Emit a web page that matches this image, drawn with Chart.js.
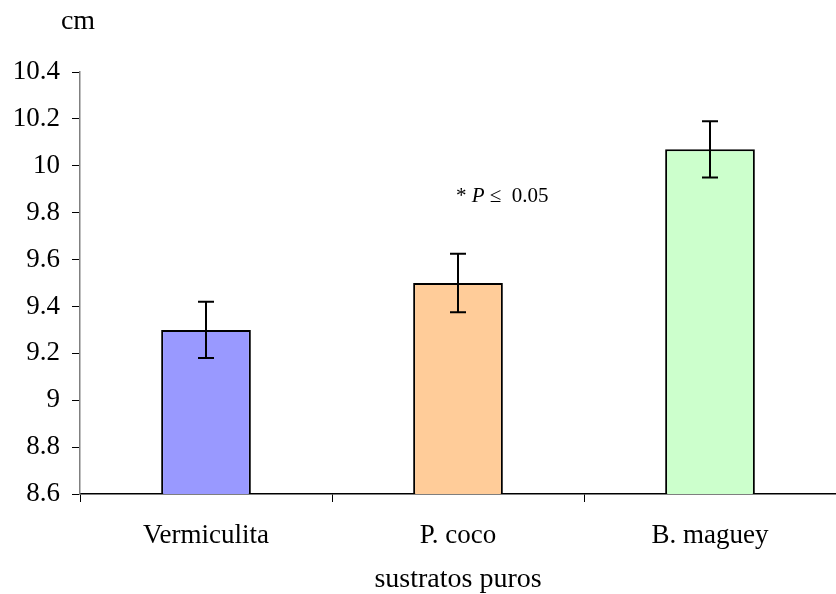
<!DOCTYPE html>
<html><head><meta charset="utf-8">
<script src="https://cdn.jsdelivr.net/npm/chart.js@4/dist/chart.umd.min.js"></script>
<style>html,body{margin:0;padding:0;background:#fff}#wrap{width:836px;height:594px}</style>
</head><body><div id="wrap"><canvas id="c" width="836" height="594"></canvas></div>
<script>
const categories = ["Vermiculita", "P. coco", "B. maguey"];
const means = [9.30, 9.50, 10.07];
const errors = [0.12, 0.125, 0.12];
const barColors = ["#9999FF", "#FFCC99", "#CCFFCC"];
const yTicks = [8.6, 8.8, 9.0, 9.2, 9.4, 9.6, 9.8, 10.0, 10.2, 10.4];
const yUnit = "cm";
const xTitle = "sustratos puros";
const noteValue = 9.87;

const SERIF = "'Liberation Serif','Times New Roman',serif";

const errorBars = {
  id: 'errorBars',
  afterDatasetsDraw(chart) {
    const ctx = chart.ctx, y = chart.scales.y, meta = chart.getDatasetMeta(0);
    ctx.save();
    ctx.strokeStyle = '#000'; ctx.lineWidth = 2;
    meta.data.forEach((bar, i) => {
      const x = bar.x;
      const yt = y.getPixelForValue(means[i] + errors[i]);
      const yb = y.getPixelForValue(means[i] - errors[i]);
      ctx.beginPath();
      ctx.moveTo(x, yt); ctx.lineTo(x, yb);
      ctx.moveTo(x - 8, yt); ctx.lineTo(x + 8, yt);
      ctx.moveTo(x - 8, yb); ctx.lineTo(x + 8, yb);
      ctx.stroke();
    });
    // unit label
    ctx.fillStyle = '#000';
    ctx.font = "28px " + SERIF;
    ctx.textAlign = 'center'; ctx.textBaseline = 'middle';
    ctx.fillText(yUnit, chart.chartArea.left - 2, 22);
    // significance note
    const bar1 = meta.data[1];
    let tx = bar1.x - 2;
    const ty = y.getPixelForValue(noteValue);
    ctx.textAlign = 'left';
    const parts = [["* ", "normal"], ["P", "italic"], [" \u2264  0.05", "normal"]];
    parts.forEach(([t, st]) => {
      ctx.font = st + " 21px " + SERIF;
      ctx.fillText(t, tx, ty);
      tx += ctx.measureText(t).width;
    });
    ctx.restore();
  }
};

new Chart(document.getElementById('c'), {
  type: 'bar',
  data: {
    labels: categories,
    datasets: [{
      data: means,
      backgroundColor: barColors,
      borderColor: '#000',
      borderWidth: 2,
      borderSkipped: false,
      barPercentage: 0.356,
      categoryPercentage: 1.0
    }]
  },
  options: {
    responsive: false,
    animation: false,
    devicePixelRatio: 1,
    layout: { padding: { top: 72, right: 0, left: 0, bottom: 0 } },
    plugins: { legend: { display: false }, tooltip: { enabled: false } },
    scales: {
      x: {
        offset: true,
        grid: { offset: true, display: true, drawOnChartArea: false, drawTicks: true, tickLength: 8, color: '#000', lineWidth: 1 },
        border: { display: true, color: '#000', width: 1.5 },
        ticks: { color: '#000', font: { family: SERIF, size: 27 }, padding: 18 },
        title: { display: true, text: xTitle, color: '#000', font: { family: SERIF, size: 28, lineHeight: 1.0 }, padding: { top: 0, bottom: 0 } },
        afterFit(s) { s.height = 100; }
      },
      y: {
        min: 8.6, max: 10.4,
        afterBuildTicks(s) { s.ticks = yTicks.map(v => ({ value: v })); },
        grid: { drawOnChartArea: false, drawTicks: true, tickLength: 8, color: '#000', lineWidth: 1 },
        border: { display: true, color: '#808080', width: 1.5 },
        ticks: { color: '#000', font: { family: SERIF, size: 27 }, padding: 12,
          callback: v => String(Math.round(v * 10) / 10) },
        afterFit(s) { s.width = 80; }
      }
    }
  },
  plugins: [errorBars]
});
</script></body></html>
